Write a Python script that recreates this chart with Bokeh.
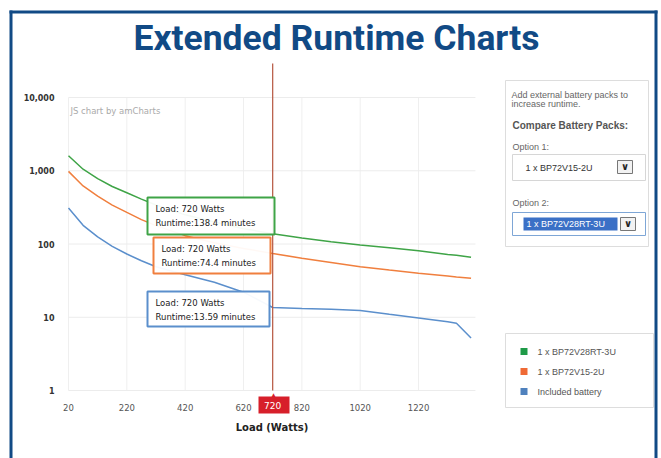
from bokeh.plotting import figure
from bokeh.models import (Range1d, FixedTicker, NumeralTickFormatter, BoxAnnotation, Label)
from bokeh.embed import file_html
from bokeh.resources import INLINE

# ---------------- data ----------------
loads = [20, 70, 120, 170, 220, 270, 320, 420, 520, 620, 720, 820, 920, 1020, 1120, 1220, 1320, 1350, 1400]
runtime_bp72v28rt = [1600, 1050, 780, 610, 500, 410, 340, 250, 200, 162, 138.4, 121, 107, 97, 89, 81, 72, 70, 66]
runtime_bp72v15 = [980, 620, 450, 340, 270, 215, 178, 130, 104, 87, 74.4, 64, 56, 49, 44, 40, 36.5, 35.5, 34]
runtime_included = [310, 180, 125, 93, 73, 59, 49, 38, 30, 22, 13.59, 13.2, 12.9, 12.4, 11, 9.8, 8.7, 8.3, 5.2]
series_names = ["1 x BP72V28RT-3U", "1 x BP72V15-2U", "Included battery"]
x_ticks = [20, 220, 420, 620, 820, 1020, 1220]
y_ticks = [1, 10, 100, 1000, 10000]
cursor_load = 720
option1 = "1 x BP72V15-2U"
option2 = "1 x BP72V28RT-3U"

GREEN, ORANGE, BLUE = "#3fa447", "#f07f3e", "#5b8fcc"
LEG_COLORS = ["#1f9a48", "#ef6a35", "#4f81bd"]
NAVY = "#114a85"

# ---------------- layout constants ----------------
W, H = 661, 458
PXW = 0.2917          # pixels per watt
X0 = 68               # pixel column of 20 W
DEC = 73.25           # pixels per decade
Y0 = 390              # pixel row of runtime 1
X_END = 1415
Y_TOP = 10 ** (4 + 34 / DEC)   # top of the plot area (cursor line top)

def sx(x):
    return x
def sy(y):
    return H - y

p = figure(width=W, height=H, output_backend="svg", toolbar_location=None, title=None,
           x_range=Range1d(20 - X0 / PXW, 20 + (W - X0) / PXW),
           y_range=Range1d(10 ** (-(H - Y0) / DEC), 10 ** (Y0 / DEC)),
           y_axis_type="log",
           min_border_left=0, min_border_right=0, min_border_top=0, min_border_bottom=0,
           background_fill_color="white", border_fill_color="white", outline_line_color=None)
p.xgrid.visible = False
p.ygrid.visible = False

# grid lines
p.segment(x0=x_ticks, x1=x_ticks, y0=[1] * len(x_ticks), y1=[10000] * len(x_ticks),
          line_color="#efefef", line_width=1)
p.segment(x0=[20] * len(y_ticks), x1=[X_END] * len(y_ticks), y0=y_ticks, y1=y_ticks,
          line_color="#ececec", line_width=1)

# axes
p.xaxis.fixed_location = 1
p.yaxis.fixed_location = 20
p.xaxis.bounds = (20, X_END)
p.yaxis.bounds = (1, 10000)
p.xaxis.ticker = FixedTicker(ticks=x_ticks)
p.yaxis.ticker = FixedTicker(ticks=y_ticks)
p.yaxis.formatter = NumeralTickFormatter(format="0,0")
for ax in (p.xaxis, p.yaxis):
    ax.axis_line_color = None
    ax.major_tick_line_color = None
    ax.minor_tick_line_color = None
p.yaxis.major_label_standoff = 8
p.yaxis.major_label_text_font = "DejaVu Sans"
p.yaxis.major_label_text_font_size = "8px"
p.yaxis.major_label_text_font_style = "bold"
p.yaxis.major_label_text_color = "#333333"
p.xaxis.major_label_text_font = "DejaVu Sans"
p.xaxis.major_label_text_font_size = "8.5px"
p.xaxis.major_label_text_color = "#555555"
p.xaxis.major_label_standoff = 7
p.xaxis.axis_label = "Load (Watts)"
p.xaxis.axis_label_text_font = "DejaVu Sans"
p.xaxis.axis_label_text_font_size = "10px"
p.xaxis.axis_label_text_font_style = "bold"
p.xaxis.axis_label_text_color = "#222222"
p.xaxis.axis_label_standoff = 8

series = [runtime_bp72v28rt, runtime_bp72v15, runtime_included]
colors = [GREEN, ORANGE, BLUE]
for vals, c in zip(series, colors):
    p.line(loads, vals, line_color=c, line_width=1.5)

# cursor line
p.segment(x0=[cursor_load], x1=[cursor_load], y0=[1], y1=[Y_TOP], line_color="#b5553e", line_width=1.2)

def box(x0, y0, x1, y1, line_color, fill_color="white", line_width=1, fill_alpha=1.0):
    p.add_layout(BoxAnnotation(left=sx(x0), right=sx(x1), top=sy(y0), bottom=sy(y1),
                               left_units="screen", right_units="screen",
                               top_units="screen", bottom_units="screen",
                               line_color=line_color, line_width=line_width, line_alpha=1.0,
                               fill_color=fill_color, fill_alpha=fill_alpha))

def text(x, y, s, size, color, font="Liberation Sans", style="normal", align="left"):
    p.add_layout(Label(x=sx(x), y=sy(y), x_units="screen", y_units="screen", text=s,
                       text_font=font, text_font_size=f"{size}px", text_color=color,
                       text_font_style=style, text_align=align, text_baseline="middle"))

# balloons
idx = loads.index(cursor_load)
balloons = [((147, 197, 274, 234), 155), ((153, 237, 270, 273), 161), ((147, 291, 269, 326), 155)]
for (geom, tx), vals, c in zip(balloons, series, colors):
    x0, y0, x1, y1 = geom
    box(x0, y0, x1, y1, c, "white", 2, 0.95)
    text(tx, y0 + 11, f"Load: {cursor_load} Watts", 8.5, "#222222", "DejaVu Sans")
    text(tx, y0 + 25.5, f"Runtime:{vals[idx]} minutes", 8.5, "#222222", "DejaVu Sans")

# cursor x label
box(258, 396, 289, 413, None, "#d71f2a")
text(273, 393.5, "\u25B2", 6, "#d71f2a", "DejaVu Sans", align="center")
p.add_layout(Label(x=cursor_load, x_units="data", y=sy(405), y_units="screen", text=str(cursor_load),
                   text_font="DejaVu Sans", text_font_size="9px", text_color="white",
                   text_align="center", text_baseline="middle"))

# watermark
text(70, 110, "JS chart by amCharts", 8.5, "#aaaaaa", "DejaVu Sans")

# title and outer frame (left, top, right bars; bottom edge is beyond the view)
text(336, 37, "Extended Runtime Charts", 35.5, NAVY, "Roboto", "bold", "center")
box(9, 10, 12, H, None, NAVY)
box(9, 10, 657, 13, None, NAVY)
box(654, 10, 657, H, None, NAVY)

# control panel
box(505, 80, 648, 246, "#dddddd")
text(511, 94, "Add external battery packs to", 9, "#666666")
text(511, 103.5, "increase runtime.", 9, "#666666")
text(512, 125, "Compare Battery Packs:", 10, "#555555", style="bold")
text(512, 146, "Option 1:", 9, "#666666")
box(512, 154, 645, 180, "#d6d6d6")
text(525, 167, option1, 9, "#333333")
box(617, 160, 632, 173, "#777777", "#f2f2f2")
text(624.5, 166, "\u2228", 10, "#222222", "DejaVu Sans", "bold", "center")
text(512, 202, "Option 2:", 9, "#666666")
box(512, 212, 645, 235, "#7ea6d6")
box(523, 217, 617, 230, None, "#3b70c6")
text(526, 223.5, option2, 9, "white")
box(620, 217, 635, 230, "#777777", "#f2f2f2")
text(627.5, 223, "\u2228", 10, "#222222", "DejaVu Sans", "bold", "center")

# legend
box(505, 333, 653, 407, "#dddddd")
for i, (name, c) in enumerate(zip(series_names, LEG_COLORS)):
    yc = 351 + i * 20
    box(520, yc - 3.5, 527, yc + 3.5, None, c)
    text(537, yc, name, 9, "#555555")

open("out.html", "w").write(file_html(p, INLINE))
